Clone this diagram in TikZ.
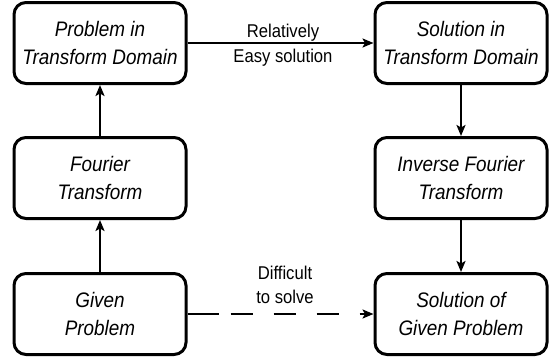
\documentclass[tikz,border=0pt]{standalone}
\usepackage{fontspec}
\setmainfont{Liberation Sans}[FakeStretch=0.9]
\usetikzlibrary{arrows.meta}
\begin{document}
\begin{tikzpicture}[x=1pt,y=1pt,
  box/.style={draw=black, line width=3pt, rounded corners=12pt, fill=white,
    minimum width=172pt, minimum height=81pt, align=center, inner sep=0pt,
    font=\fontsize{21}{28}\selectfont\itshape},
  conn/.style={line width=2.6pt, -{Stealth[length=11pt,width=9pt,inset=2.5pt]}},
  lbl/.style={font=\fontsize{18.5}{25}\selectfont, align=center, inner sep=0pt}]
\path[use as bounding box] (0,0) rectangle (556,360);
\node[box] (ptd) at (100,317) {Problem in\\Transform Domain};
\node[box] (std) at (461,317) {Solution in\\Transform Domain};
\node[box] (ft) at (100,182) {Fourier\\Transform};
\node[box] (ift) at (461,182) {Inverse Fourier\\Transform};
\node[box] (gp) at (100,46) {Given\\Problem};
\node[box] (sgp) at (461,46) {Solution of\\Given Problem};
\draw[conn] (gp) -- (ft);
\draw[conn] (ft) -- (ptd);
\draw[conn] (ptd) -- (std);
\draw[conn] (std) -- (ift);
\draw[conn] (ift) -- (sgp);
\draw[conn, dash pattern=on 31pt off 12pt on 22pt off 21pt on 22pt off 21pt on 22pt off 21pt on 60pt off 1pt] (gp) -- (sgp);
\node[lbl, anchor=base] (l1) at (283,323) {Relatively};
\node[lbl, anchor=base] (l2) at (283,298) {Easy solution};
\node[lbl, anchor=base] (l3) at (285,81) {Difficult};
\node[lbl, anchor=base] (l4) at (285,57) {to solve};
\end{tikzpicture}
\end{document}
